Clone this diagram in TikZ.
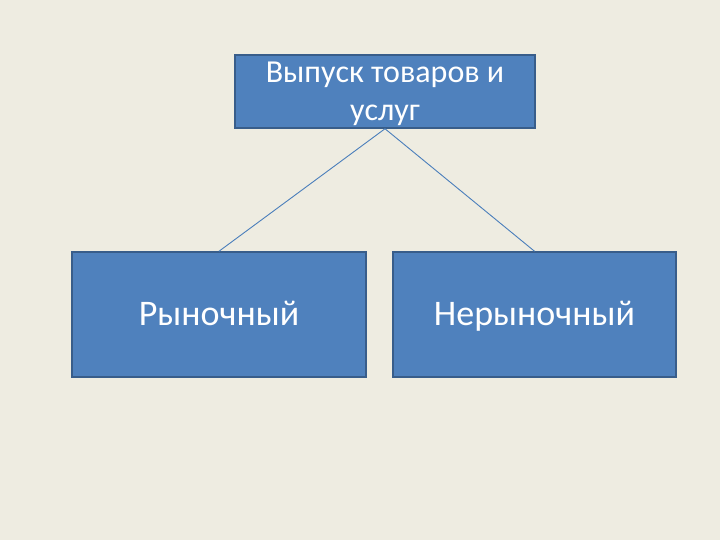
\documentclass[tikz,border=0pt]{standalone}
\usepackage{fontspec}
\setmainfont{Carlito}
\definecolor{bgc}{HTML}{EEECE1}
\definecolor{boxfill}{HTML}{4F81BD}
\definecolor{boxline}{HTML}{385D8A}
\definecolor{conn}{HTML}{4A7EBB}
\begin{document}
\begin{tikzpicture}[x=1pt,y=1pt,
  box/.style={draw=boxline,line width=1.5pt,fill=boxfill,text=white,inner sep=0pt,align=center},
  bigtext/.style={font=\fontsize{36}{40}\selectfont,text height=30pt,text depth=7pt},
  link/.style={draw=conn,line width=0.9pt}]
\fill[bgc] (0,0) rectangle (720,540);
\useasboundingbox (0,0) rectangle (720,540);
\node[box,minimum width=300pt,minimum height=73pt,font=\fontsize{32}{38}\selectfont,text depth=-6pt] (top) at (385,448.5) {Выпуск товаров и\\услуг};
\node[box,bigtext,minimum width=294pt,minimum height=125pt] (left) at (219,225.5) {Рыночный};
\node[box,bigtext,minimum width=283pt,minimum height=125pt] (right) at (534.5,225.5) {Нерыночный};
\draw[link] (top.south) -- (left.north);
\draw[link] (top.south) -- (right.north);
\end{tikzpicture}
\end{document}
